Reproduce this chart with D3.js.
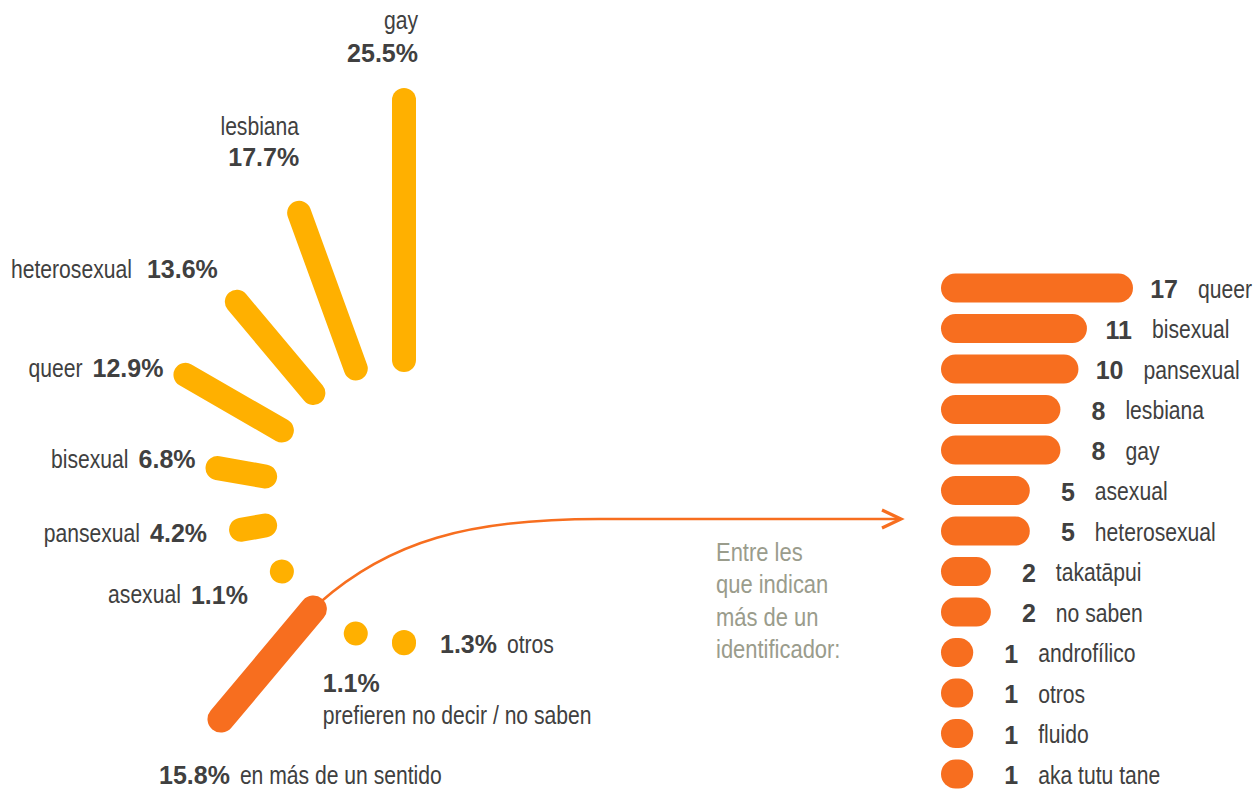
<!DOCTYPE html>
<html lang="es">
<head>
    <meta charset="UTF-8">
    <title>Identidad sexual</title>
    <script src="https://d3js.org/d3.v7.min.js"></script>
    <style>
        body { margin: 0; background: #fff; }
        .lbl { font-family: 'Liberation Sans', Arial, sans-serif; font-size: 25px; fill: #404040; }
        .num { font-family: 'Liberation Sans', Arial, sans-serif; font-weight: bold; font-size: 25px; fill: #404040; }
        .note { font-family: 'Liberation Sans', Arial, sans-serif; font-size: 26px; fill: #9a9c8c; }
    </style>
</head>
<body>
<script>
    // left: share of respondents by identity (%)
    const categories = ['gay', 'lesbiana', 'heterosexual', 'queer', 'bisexual', 'pansexual',
        'asexual', 'en más de un sentido', 'prefieren no decir / no saben', 'otros'];
    const shares = [25.5, 17.7, 13.6, 12.9, 6.8, 4.2, 1.1, 15.8, 1.1, 1.3];

    // right: identifiers named by those with more than one
    const multiNames = ['queer', 'bisexual', 'pansexual', 'lesbiana', 'gay', 'asexual', 'heterosexual',
        'takatāpui', 'no saben', 'androfílico', 'otros', 'fluido', 'aka tutu tane'];
    const multiCounts = [17, 11, 10, 8, 8, 5, 5, 2, 2, 1, 1, 1, 1];

    const noteLines = ['Entre les', 'que indican', 'más de un', 'identificador:'];

    const yellow = '#ffb000';
    const orange = '#f76e1f';
    const narrow = 0.845; // squeeze regular text to a narrow face

    const svg = d3.select('body').append('svg')
        .attr('width', 1260)
        .attr('height', 789);

    // writes a row of text parts; regular parts are squeezed horizontally
    function drawLabel(x, y, anchor, parts, gap = 10) {
        const items = parts.map(p => {
            const sx = p.cls === 'num' ? 1 : narrow;
            const el = svg.append('text').attr('class', p.cls).attr('y', y).text(p.t);
            return { el, sx, w: el.node().getComputedTextLength() * sx };
        });
        const total = d3.sum(items, d => d.w) + gap * (items.length - 1);
        let cur = anchor === 'end' ? x - total : x;
        items.forEach(it => {
            if (it.sx !== 1) {
                it.el.attr('x', 0).attr('transform', `translate(${cur},0) scale(${it.sx},1)`);
            } else {
                it.el.attr('x', cur);
            }
            cur += it.w + gap;
        });
    }

    // ---- radial burst ----
    const cx = 404, cy = 501, r0 = 141;

    const angle = d3.scaleLinear()
        .domain([0, categories.length - 1])
        .range([0, Math.PI]);

    const len = d3.scalePow()
        .exponent(1.2)
        .domain([1.1, 25.5])
        .range([0, 260])
        .clamp(true);

    const pt = (i, r) => [cx - r * Math.sin(angle(i)), cy - r * Math.cos(angle(i))];

    const rays = shares.map((v, i) => ({
        name: categories[i],
        value: v,
        inner: pt(i, r0),
        outer: pt(i, r0 + Math.max(len(v), 0.01)),
        multi: i === 7
    }));

    // arrow from the multi ray over to the bars
    const x0 = 941;
    const multiRay = rays[7];
    const sx = multiRay.inner[0] + 6, sy = multiRay.inner[1] - 6;
    const ay = 519, tipX = x0 - 40;

    svg.append('path')
        .attr('fill', 'none')
        .attr('stroke', orange)
        .attr('stroke-width', 2.5)
        .attr('d', `M${sx},${sy} C${sx + 70},${sy - 62} ${sx + 150},${ay} ${sx + 280},${ay} L${tipX},${ay}`);

    svg.append('path')
        .attr('fill', 'none')
        .attr('stroke', orange)
        .attr('stroke-width', 3.2)
        .attr('d', `M${tipX - 19},${ay - 9} L${tipX},${ay} L${tipX - 19},${ay + 9}`);

    svg.selectAll('.ray')
        .data(rays)
        .enter().append('line')
        .attr('class', 'ray')
        .attr('x1', d => d.inner[0])
        .attr('y1', d => d.inner[1])
        .attr('x2', d => d.outer[0])
        .attr('y2', d => d.outer[1])
        .attr('stroke', d => d.multi ? orange : yellow)
        .attr('stroke-width', d => d.multi ? 27 : 24)
        .attr('stroke-linecap', 'round');

    const pct = v => v.toFixed(1) + '%';

    // label placement relative to each ray's outer end
    const place = [
        { kind: 'stack', dx: 14, dy: [-71, -38] },
        { kind: 'stack', dx: 0, dy: [-78, -47] },
        { kind: 'nameFirst', dx: -19, dy: -24, gap: 15 },
        { kind: 'nameFirst', dx: -22, dy: 2 },
        { kind: 'nameFirst', dx: -22, dy: 0 },
        { kind: 'nameFirst', dx: -34, dy: 12 },
        { kind: 'nameFirst', dx: -34, dy: 32 },
        { kind: 'valueFirst', dx: -62, dy: 65 },
        { kind: 'stackValue', dx: -33, dy: [58, 90] },
        { kind: 'valueFirst', dx: 36, dy: 10 }
    ];

    rays.forEach((d, i) => {
        const p = place[i];
        const x = d.outer[0] + p.dx;
        const name = { t: d.name, cls: 'lbl' };
        const val = { t: pct(d.value), cls: 'num' };
        if (p.kind === 'stack') {
            drawLabel(x, d.outer[1] + p.dy[0], 'end', [name]);
            drawLabel(x, d.outer[1] + p.dy[1], 'end', [val]);
        } else if (p.kind === 'stackValue') {
            drawLabel(x, d.outer[1] + p.dy[0], 'start', [val]);
            drawLabel(x, d.outer[1] + p.dy[1], 'start', [name]);
        } else if (p.kind === 'nameFirst') {
            drawLabel(x, d.outer[1] + p.dy, 'end', [name, val], p.gap || 10);
        } else {
            drawLabel(x, d.outer[1] + p.dy, 'start', [val, name]);
        }
    });

    // ---- bars for multi identifiers ----
    const yBar = d3.scalePoint()
        .domain(multiNames)
        .range([288, 774]);

    const wBar = d3.scalePow()
        .exponent(0.63)
        .domain([0, 17])
        .range([0, 192]);

    const barH = 29;

    svg.selectAll('.bar')
        .data(multiNames)
        .enter().append('line')
        .attr('class', 'bar')
        .attr('x1', x0 + barH / 2)
        .attr('x2', (d, i) => x0 + Math.max(wBar(multiCounts[i]) - barH / 2, barH / 2 + 0.01))
        .attr('y1', d => yBar(d))
        .attr('y2', d => yBar(d))
        .attr('stroke', orange)
        .attr('stroke-width', barH)
        .attr('stroke-linecap', 'round');

    multiNames.forEach((n, i) => {
        const end = x0 + wBar(multiCounts[i]);
        drawLabel(end + 45, yBar(n) + 10, 'end', [{ t: String(multiCounts[i]), cls: 'num' }]);
        drawLabel(end + 65, yBar(n) + 10, 'start', [{ t: n, cls: 'lbl' }]);
    });

    noteLines.forEach((t, i) => {
        drawLabel(716, 561 + i * 32.5, 'start', [{ t, cls: 'note' }]);
    });
</script>
</body>
</html>
